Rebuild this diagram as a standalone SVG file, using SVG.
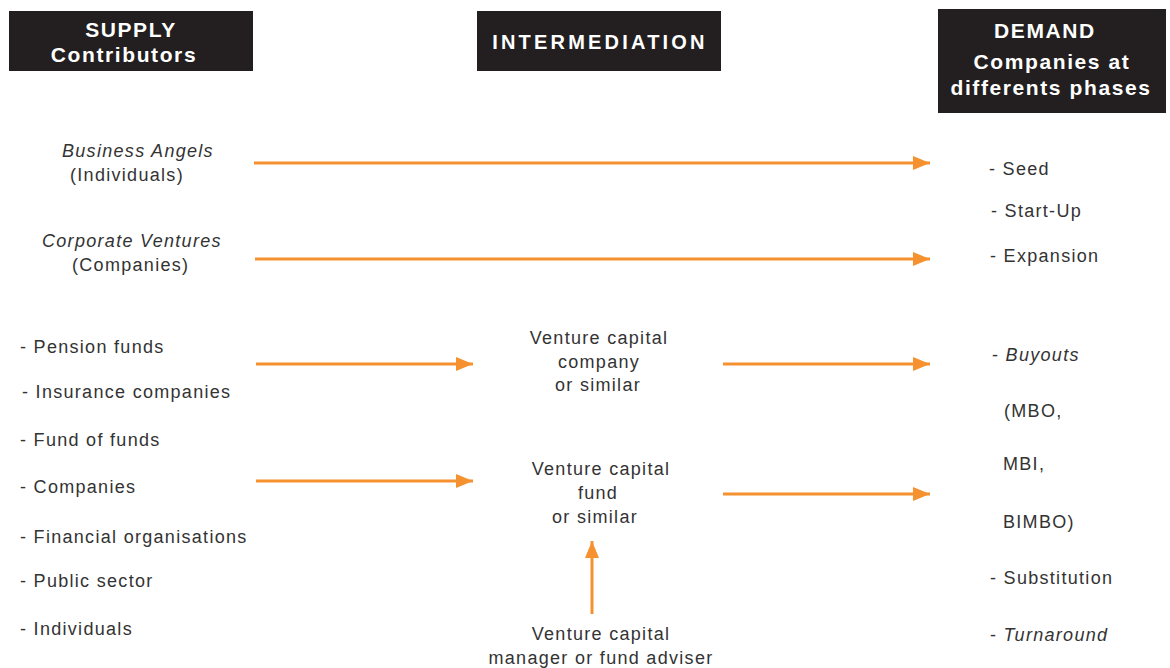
<svg xmlns="http://www.w3.org/2000/svg" width="1170" height="668" viewBox="0 0 1170 668">
<style>
.hdr{fill:#231f20}
.ht{font-family:"Liberation Sans",Arial,sans-serif;font-weight:bold;font-size:21px;fill:#fff;text-anchor:middle;letter-spacing:1.6px}
.t{font-family:"Liberation Sans",Arial,sans-serif;font-size:18px;fill:#333;letter-spacing:1.3px}
.c{text-anchor:middle}
.i{font-style:italic}
.ar{stroke:#f5922f;stroke-width:3;fill:none;marker-end:url(#ah)}
</style>
<defs>
<marker id="ah" markerUnits="userSpaceOnUse" markerWidth="18" markerHeight="16" refX="17" refY="8" orient="auto">
<path d="M0,1 L17,8 L0,15 Z" fill="#f5922f"/>
</marker>
</defs>
<rect width="1170" height="668" fill="#fff"/>
<g id="supply-header"><rect class="hdr" x="9" y="11" width="244" height="60"/><text class="ht" x="131" y="37">SUPPLY</text><text class="ht" x="124" y="62">Contributors</text></g>
<g id="intermediation-header"><rect class="hdr" x="477" y="11" width="244" height="60"/><text class="ht" x="600" y="49" style="font-size:20px;letter-spacing:3.2px">INTERMEDIATION</text></g>
<g id="demand-header"><rect class="hdr" x="938" y="9" width="228" height="104"/><text class="ht" x="1045" y="38">DEMAND</text><text class="ht" x="1052" y="69">Companies at</text><text class="ht" x="1051" y="95">differents phases</text></g>

<g id="business-angels"><text class="t i" x="62" y="157">Business Angels</text><text class="t" x="70" y="181">(Individuals)</text></g>
<g id="corporate-ventures"><text class="t i" x="42" y="247">Corporate Ventures</text><text class="t" x="72" y="271">(Companies)</text></g>
<g id="institutional-contributors">
<text class="t" x="20" y="353">- Pension funds</text>
<text class="t" x="22" y="398">- Insurance companies</text>
<text class="t" x="20" y="446">- Fund of funds</text>
<text class="t" x="20" y="493">- Companies</text>
<text class="t" x="20" y="543">- Financial organisations</text>
<text class="t" x="20" y="587">- Public sector</text>
<text class="t" x="20" y="635">- Individuals</text>
</g>

<g id="vc-company"><text class="t c" x="599" y="344">Venture capital</text><text class="t c" x="599" y="368">company</text><text class="t c" x="598" y="391">or similar</text></g>
<g id="vc-fund"><text class="t c" x="601" y="475">Venture capital</text><text class="t c" x="598" y="499">fund</text><text class="t c" x="595" y="523">or similar</text></g>
<g id="vc-manager"><text class="t c" x="601" y="640">Venture capital</text><text class="t c" x="601" y="664">manager or fund adviser</text></g>

<g id="demand-phases">
<text class="t" x="989" y="175">- Seed</text>
<text class="t" x="991" y="217">- Start-Up</text>
<text class="t" x="990" y="262">- Expansion</text>
<text class="t" x="992" y="361">- <tspan class="i">Buyouts</tspan></text>
<text class="t" x="1004" y="417">(MBO,</text>
<text class="t" x="1003" y="470">MBI,</text>
<text class="t" x="1003" y="528">BIMBO)</text>
<text class="t" x="990" y="584">- Substitution</text>
<text class="t" x="990" y="641">- <tspan class="i">Turnaround</tspan></text>
</g>

<g id="connectors">
<line class="ar" x1="254" y1="163" x2="930" y2="163"/>
<line class="ar" x1="255" y1="259" x2="930" y2="259"/>
<line class="ar" x1="256" y1="364" x2="473" y2="364"/>
<line class="ar" x1="256" y1="481" x2="473" y2="481"/>
<line class="ar" x1="723" y1="364" x2="930" y2="364"/>
<line class="ar" x1="723" y1="494" x2="930" y2="494"/>
<line class="ar" x1="592" y1="614" x2="592" y2="541"/>
</g>
</svg>
